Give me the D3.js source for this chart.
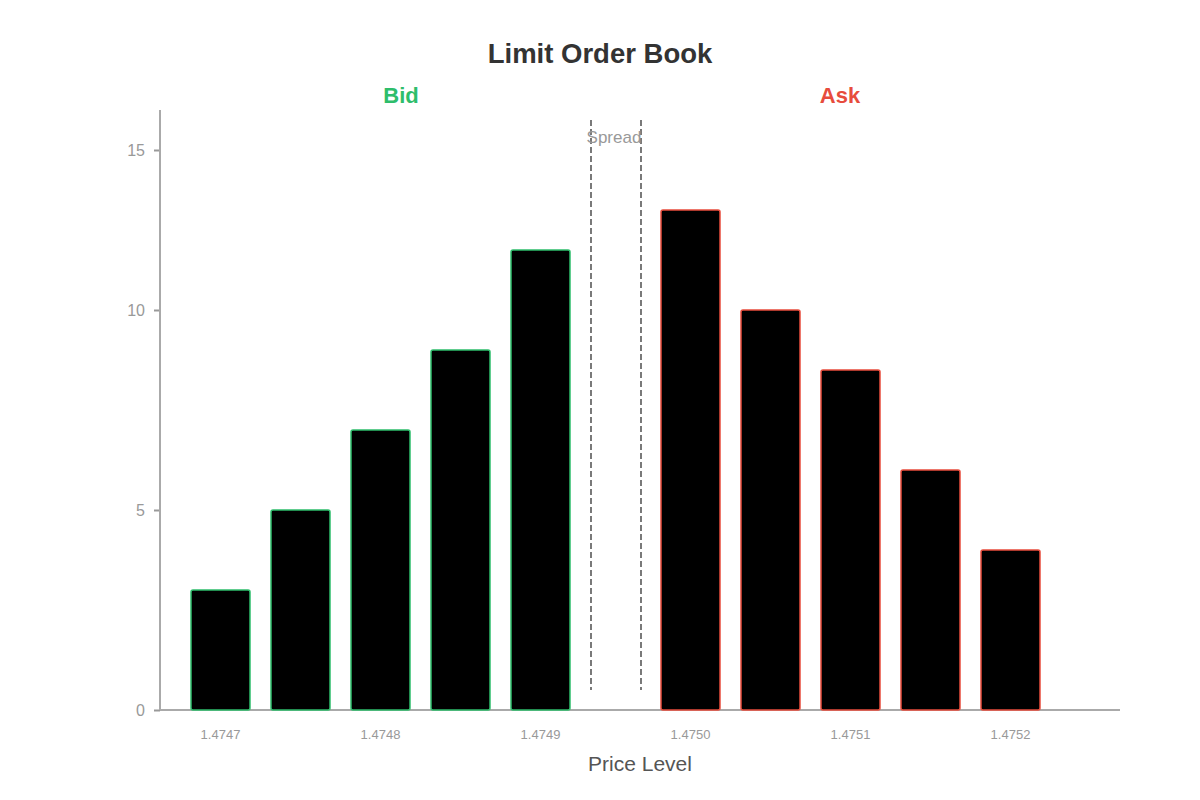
<!DOCTYPE html>
<html>
<head>
<meta charset="utf-8">
<script src="https://cdn.jsdelivr.net/npm/d3@7"></script>
<style>
  body { margin: 0; background: #fff; }
  text { font-family: "Liberation Sans", Arial, sans-serif; }
</style>
</head>
<body>
<div id="chart"></div>
<script>
/* DATA */
const bidPrices = [1.4747, 1.47475, 1.4748, 1.47485, 1.4749];
const bidSizes = [3, 5, 7, 9, 11.5];
const askPrices = [1.4750, 1.47505, 1.4751, 1.47515, 1.4752];
const askSizes = [12.5, 10, 8.5, 6, 4];
const yTicks = [0, 5, 10, 15];
const xTickPrices = [1.4747, 1.4748, 1.4749, 1.4750, 1.4751, 1.4752];

/* CONSTANTS */
const width = 1200,
  height = 800,
  margin = { top: 110, bottom: 90, left: 160, right: 80 };

const bidColor = "#2ebd6b",
  askColor = "#e74c3c";

const bids = bidPrices.map((p, i) => ({ price: p, size: bidSizes[i] }));
const asks = askPrices.map((p, i) => ({ price: p, size: askSizes[i] }));

const svg = d3.select("#chart")
  .append("svg")
  .attr("width", width)
  .attr("height", height);

// two band scales, one per side, with the spread gap between them
const bidX = d3.scaleBand()
  .domain(bidPrices)
  .range([180.5, 580.5])
  .paddingInner(0.2625)
  .paddingOuter(0.13125);

const askX = d3.scaleBand()
  .domain(askPrices)
  .range([650.5, 1050.5])
  .paddingInner(0.2625)
  .paddingOuter(0.13125);

const yScale = d3.scaleLinear()
  .domain([0, 15])
  .range([height - margin.bottom, margin.top]);

// the axis in the reference places its top tick off the linear grid
const yAxisScale = d3.scaleLinear()
  .domain([0, 10, 15])
  .range([yScale(0), yScale(10), 150]);

/* TITLE + SIDE LABELS */
svg.append("text")
  .attr("x", width / 2)
  .attr("y", 63)
  .attr("text-anchor", "middle")
  .attr("font-size", 27.5)
  .attr("font-weight", "bold")
  .attr("fill", "#333")
  .text("Limit Order Book");

svg.append("text")
  .attr("x", 401)
  .attr("y", 103)
  .attr("text-anchor", "middle")
  .attr("font-size", 22)
  .attr("font-weight", "bold")
  .attr("fill", bidColor)
  .text("Bid");

svg.append("text")
  .attr("x", 840)
  .attr("y", 103)
  .attr("text-anchor", "middle")
  .attr("font-size", 22)
  .attr("font-weight", "bold")
  .attr("fill", askColor)
  .text("Ask");

/* AXES */
const yAxis = d3.axisLeft(yAxisScale)
  .tickValues(yTicks)
  .tickSize(6)
  .tickPadding(9);

const yG = svg.append("g")
  .attr("transform", `translate(${margin.left},0)`)
  .call(yAxis);
yG.select(".domain").remove();
yG.selectAll(".tick line").attr("stroke", "#999").attr("stroke-width", 2);
yG.selectAll(".tick text").attr("fill", "#999").attr("font-size", 16);

svg.append("line")
  .attr("x1", margin.left).attr("x2", margin.left)
  .attr("y1", margin.top).attr("y2", yScale(0))
  .attr("stroke", "#aaa").attr("stroke-width", 2);

svg.append("line")
  .attr("x1", margin.left).attr("x2", width - margin.right)
  .attr("y1", yScale(0)).attr("y2", yScale(0))
  .attr("stroke", "#aaa").attr("stroke-width", 2);

// x tick labels centred on the matching bars
const xPos = p => {
  if (bidPrices.includes(p)) return bidX(p) + bidX.bandwidth() / 2;
  return askX(p) + askX.bandwidth() / 2;
};

svg.append("g")
  .selectAll("text")
  .data(xTickPrices)
  .join("text")
  .attr("x", d => xPos(d))
  .attr("y", yScale(0) + 29)
  .attr("text-anchor", "middle")
  .attr("font-size", 13)
  .attr("fill", "#999")
  .text(d => d3.format(".4f")(d));

svg.append("text")
  .attr("x", (margin.left + width - margin.right) / 2)
  .attr("y", 771)
  .attr("text-anchor", "middle")
  .attr("font-size", 21)
  .attr("fill", "#555")
  .text("Price Level");

/* SPREAD */
const spreadLeft = bidX.range()[1] + 10.5,
  spreadRight = askX.range()[0] - 9.5;

svg.append("g")
  .selectAll("line")
  .data([spreadLeft, spreadRight])
  .join("line")
  .attr("x1", d => d).attr("x2", d => d)
  .attr("y1", 120).attr("y2", 690)
  .attr("stroke", "#222")
  .attr("stroke-width", 1.2)
  .attr("stroke-dasharray", "6,3");

svg.append("text")
  .attr("x", (spreadLeft + spreadRight) / 2 - 2)
  .attr("y", 143)
  .attr("text-anchor", "middle")
  .attr("font-size", 17)
  .attr("fill", "#999")
  .text("Spread");

/* BARS */
svg.append("g")
  .selectAll("rect")
  .data(bids)
  .join("rect")
  .attr("x", d => bidX(d.price))
  .attr("y", d => yScale(d.size))
  .attr("width", bidX.bandwidth())
  .attr("height", d => yScale(0) - yScale(d.size))
  .attr("rx", 2)
  .attr("fill", "#000")
  .attr("stroke", bidColor)
  .attr("stroke-width", 1.5);

svg.append("g")
  .selectAll("rect")
  .data(asks)
  .join("rect")
  .attr("x", d => askX(d.price))
  .attr("y", d => yScale(d.size))
  .attr("width", askX.bandwidth())
  .attr("height", d => yScale(0) - yScale(d.size))
  .attr("rx", 2)
  .attr("fill", "#000")
  .attr("stroke", askColor)
  .attr("stroke-width", 1.5);
</script>
</body>
</html>
